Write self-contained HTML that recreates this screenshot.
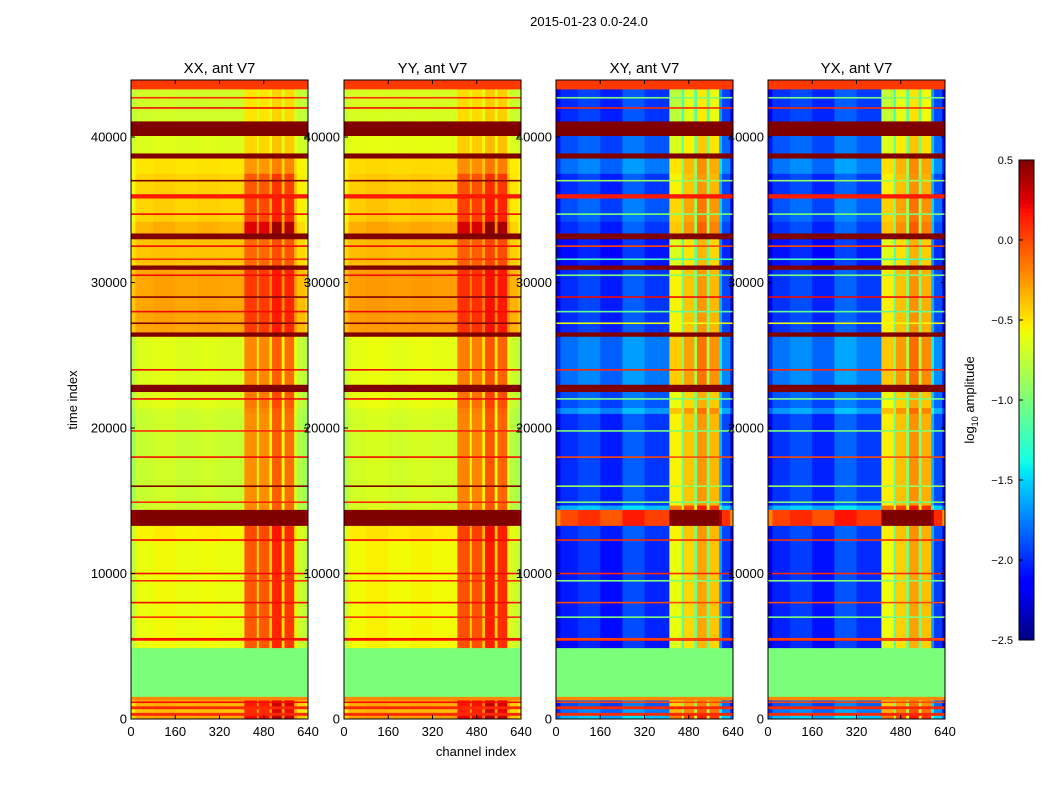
<!DOCTYPE html>
<html><head><meta charset="utf-8"><style>
body{margin:0;background:#fff;}
svg{display:block;font-family:"Liberation Sans",sans-serif;}
</style></head><body>
<svg id="fig" width="1050" height="800" viewBox="0 0 1050 800">
<rect width="1050" height="800" fill="#fff"/>
<text x="589" y="26" font-size="13" text-anchor="middle">2015-01-23 0.0-24.0</text>
<text transform="translate(77,400) rotate(-90)" font-size="13" text-anchor="middle">time index</text>
<text x="476" y="756" font-size="13" text-anchor="middle">channel index</text>
<text transform="translate(974,400) rotate(-90)" font-size="13" text-anchor="middle">log<tspan font-size="9" dy="4">10</tspan><tspan dy="-4"> amplitude</tspan></text>
<g id="panels"></g>
<g id="cbar"></g>
</svg>
<script>
// ---- data ----
const panelNames = ["XX, ant V7","YY, ant V7","XY, ant V7","YX, ant V7"];
const panelKinds = ["auto","auto","cross","cross"];
const panelOffsets = [0, 0.03, 0, 0.02];
const xTicks = [0,160,320,480,640];
const yTicks = [0,10000,20000,30000,40000];
const cbarTicks = [0.5,0.0,-0.5,-1.0,-1.5,-2.0,-2.5];
const chanEdges = [0,16,80,160,240,320,410,455,462,500,510,545,555,590,600,630,640];
const autoProfile = [-0.15,0,0.03,0,0.02,0,0.5,0.1,0.5,0.15,0.65,0.1,0.6,0.05,-0.1,-0.2];
const crossProfile = [-0.2,0,0.08,-0.05,0.15,0.03,1.45,0.9,1.6,1.0,1.75,1.0,1.65,0.4,0.08,-0.25];
// time segments: start, end
const segStart = [0,250,450,700,900,1300,1550,4900,5400,5600,12200,13300,14400,14700,21000,21400,22500,23000,26300,26600,30900,31200,33000,33400,34200,35800,36100,37500,38550,38900,40100,41100,43300];
const segEnd   = [250,450,700,900,1300,1550,4900,5400,5600,12200,13300,14400,14700,21000,21400,22500,23000,26300,26600,30900,31200,33000,33400,34200,35800,36100,37500,38550,38900,40100,41100,43300,43920];
const segAuto  = [-0.3,0.1,-0.4,0.1,-0.35,-0.2,-1.0,-0.6,0.1,-0.6,-0.55,0.6,-0.7,-0.72,-0.7,-0.65,0.55,-0.65,0.5,-0.3,0.5,-0.4,0.5,-0.35,-0.45,0.15,-0.45,-0.5,0.55,-0.65,0.55,-0.7,0.05];
const segCross = [-1.6,0.1,-1.8,0.1,-1.9,-0.2,-1.0,-2.1,0.1,-2.05,-2.0,0.0,-1.6,-2.0,-1.7,-1.9,0.55,-1.8,0.5,-2.0,0.5,-2.1,0.5,-2.0,-1.9,0.15,-2.0,-1.8,0.55,-1.9,0.55,-2.0,0.05];
const segRfi   = [1,0,1,0,1,0,0,1.1,0,1.1,1.1,1,1,1,1,1,0,0.9,0,0.7,0,0.6,0,1.2,0.9,0,0.8,0.5,0,0.4,0,0.4,0];
const segRfiCross = [1,0,1,0,1,0,0,1,0,1,1,1,1,1,0.9,0.9,0,0.95,0,1,0,1,0,1.1,1,0,1,0.9,0,0.85,0,0.85,0];
// thin flag lines: time index and value
const lineTimes  = [1150,5500,7000,8000,9500,10000,12300,14900,16000,18000,19800,22000,24000,27200,28000,29000,30500,31600,32500,34700,37000,42000,42700];
const lineAuto   = [0.2,0.2,0.1,0.2,0.1,0.2,0.2,0.1,0.5,0.2,0.1,0.2,0.2,0.5,0.2,0.5,0.2,0.1,0.2,0.2,0.5,0.2,0.1];
const lineCross  = [0.0,0.0,-1.0,0.0,-1.0,0.1,0.1,-1.0,-0.9,0.0,-1.0,-1.0,0.1,-0.6,-1.1,0.2,-1.0,-1.2,0.0,-1.0,-0.9,0.1,-1.0];

// ---- scales ----
const VMIN=-2.5, VMAX=0.5, TMAX=43920;
const panelX=[131,344,556,768], PW=177, PTOP=80, PBOT=719;
function yScale(t){return PBOT-(t/TMAX)*(PBOT-PTOP);}
function xScale(px,c){return px+c/640*PW;}
function jet(v){
  let x=(v-VMIN)/(VMAX-VMIN); x=Math.max(0,Math.min(1,x));
  const lerp=(pts)=>{for(let i=1;i<pts.length;i++){if(x<=pts[i][0]){const a=pts[i-1],b=pts[i];return a[1]+(b[1]-a[1])*(x-a[0])/(b[0]-a[0]);}}return pts[pts.length-1][1];};
  const r=lerp([[0,0],[0.35,0],[0.66,1],[0.89,1],[1,0.5]]);
  const g=lerp([[0,0],[0.125,0],[0.375,1],[0.64,1],[0.91,0],[1,0]]);
  const b=lerp([[0,0.5],[0.11,1],[0.34,1],[0.65,0],[1,0]]);
  return `rgb(${Math.round(r*255)},${Math.round(g*255)},${Math.round(b*255)})`;
}
const NS="http://www.w3.org/2000/svg";
function mk(tag,attrs,parent){const e=document.createElementNS(NS,tag);for(const k in attrs)e.setAttribute(k,attrs[k]);parent.appendChild(e);return e;}
const root=document.getElementById('panels');
panelNames.forEach((name,p)=>{
  const px=panelX[p], kind=panelKinds[p];
  const g=mk('g',{},root);
  
  
  const base = kind==='auto'?segAuto:segCross;
  const prof = kind==='auto'?autoProfile:crossProfile;
  const rfi = kind==='auto'?segRfi:segRfiCross;
  for(let s=0;s<segStart.length;s++){
    const y0=yScale(segEnd[s]), y1=yScale(segStart[s]);
    for(let c=0;c<chanEdges.length-1;c++){
      const v = rfi[s]===0 ? base[s] : base[s]+prof[c]*rfi[s]+panelOffsets[p];
      const r=mk('rect',{x:xScale(px,chanEdges[c]).toFixed(2),y:y0.toFixed(2),width:(xScale(px,chanEdges[c+1])-xScale(px,chanEdges[c])+0.4).toFixed(2),height:(y1-y0+0.4).toFixed(2),fill:jet(v)},g);
      
      
    }
  }
  const lv = kind==='auto'?lineAuto:lineCross;
  lineTimes.forEach((t,i)=>{
    const l=mk('rect',{x:px,y:(yScale(t)-0.8).toFixed(2),width:PW,height:1.6,fill:jet(lv[i])},g);
    
    
  });
  const fr=mk('rect',{x:px,y:PTOP,width:PW,height:PBOT-PTOP,fill:'none',stroke:'#000','stroke-width':1},g);
  
  
  const tt=mk('text',{x:px+PW/2,y:73,'font-size':15,'text-anchor':'middle'},g);
  tt.textContent=name;
  
  
  xTicks.forEach(c=>{
    const x=xScale(px,c);
    mk('line',{x1:x,x2:x,y1:PBOT,y2:PBOT-4,stroke:'#000'},g);
    mk('line',{x1:x,x2:x,y1:PTOP,y2:PTOP+4,stroke:'#000'},g);
    const tl=mk('text',{x:x,y:736,'font-size':13,'text-anchor':'middle'},g);
    tl.textContent=c;
    
    
  });
  yTicks.forEach(t=>{
    const y=yScale(t);
    mk('line',{x1:px,x2:px+4,y1:y,y2:y,stroke:'#000'},g);
    mk('line',{x1:px+PW,x2:px+PW-4,y1:y,y2:y,stroke:'#000'},g);
    const tl=mk('text',{x:px-4,y:y+4.5,'font-size':13,'text-anchor':'end'},g);
    tl.textContent=t;
    
    
  });
});
// colorbar
const cb=document.getElementById('cbar');


const CBX=1019,CBW=15,CBT=160,CBB=640;
function cbY(v){return CBB-(v-VMIN)/(VMAX-VMIN)*(CBB-CBT);}
for(let i=0;i<120;i++){
  const v0=VMIN+(VMAX-VMIN)*i/120, v1=VMIN+(VMAX-VMIN)*(i+1)/120;
  mk('rect',{x:CBX,y:cbY(v1).toFixed(2),width:CBW,height:(cbY(v0)-cbY(v1)+0.5).toFixed(2),fill:jet((v0+v1)/2)},cb);
}
mk('rect',{x:CBX,y:CBT,width:CBW,height:CBB-CBT,fill:'none',stroke:'#000'},cb);
cbarTicks.forEach(v=>{
  const y=cbY(v);
  mk('line',{x1:CBX,x2:CBX+4,y1:y,y2:y,stroke:'#000'},cb);
  const tl=mk('text',{x:1013,y:y+4,'font-size':11,'text-anchor':'end'},cb);
  tl.textContent=(v===0?'0.0':v.toFixed(1)).replace('-','\u2212');
  
  
});
</script>
</body></html>
